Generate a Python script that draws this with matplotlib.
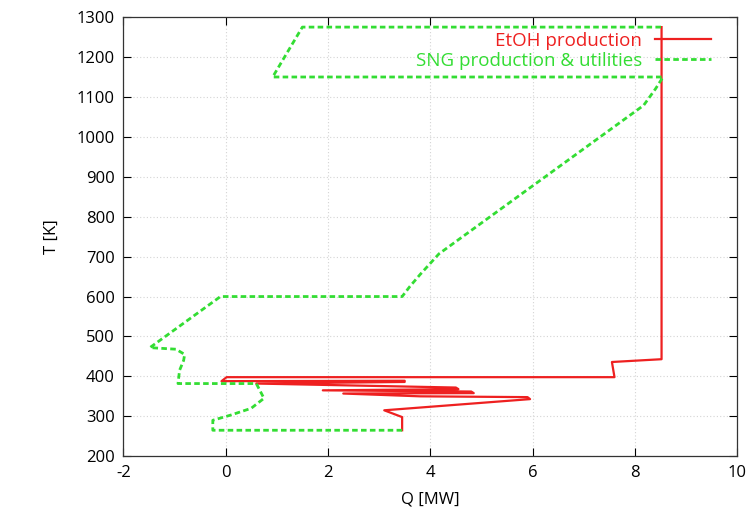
import matplotlib
matplotlib.use("Agg")
import matplotlib.pyplot as plt

# Heat load Q [MW] vs temperature T [K] for the two process streams
etoh_q = [3.45, 3.45, 3.10, 5.95, 5.90, 3.80, 2.30, 4.85, 4.80, 1.90, 4.55,
          4.50, 0.60, 3.50, 3.50, -0.08, 0.02, 7.60, 7.55, 8.52, 8.52]
etoh_t = [265, 298, 315, 343, 348, 350, 357, 358, 362, 365, 368,
          372, 382, 386, 389, 388, 398, 398, 436, 443, 1275]

sng_q = [3.45, -0.25, -0.25, 0.10, 0.50, 0.75, 0.60, -0.93, -0.90, -0.82,
         -0.80, -0.97, -1.48, -0.10, 3.45, 3.60, 3.80, 4.17, 8.17, 8.40,
         8.55, 0.92, 1.50, 8.55]
sng_t = [265, 265, 290, 303, 320, 345, 382, 382, 415, 440,
         455, 468, 472, 600, 600, 625, 655, 707, 1079, 1120,
         1150, 1150, 1275, 1275]

x_ticks = [-2, 0, 2, 4, 6, 8, 10]
y_ticks = [200, 300, 400, 500, 600, 700, 800, 900, 1000, 1100, 1200, 1300]

plt.rcParams["font.family"] = ["Open Sans", "DejaVu Sans"]
plt.rcParams["axes.unicode_minus"] = False

fig = plt.figure(figsize=(7.47, 5.19), dpi=100)
ax = fig.add_axes([0.165, 0.121, 0.822, 0.846])

ax.plot(etoh_q, etoh_t, color="#ee2020", lw=1.6, label="EtOH production")
ax.plot(sng_q, sng_t, color="#33dd33", lw=2.0, ls=(0, (2.0, 1.2)),
        label="SNG production & utilities")

ax.set_xlim(-2, 10)
ax.set_ylim(200, 1300)
ax.set_xticks(x_ticks)
ax.set_yticks(y_ticks)
ax.grid(True, color="#d4d4d4", ls=(0, (1, 2)), lw=0.8)
ax.tick_params(direction="in", top=True, right=True, length=6,
               labelsize=12, pad=6, width=0.8)
for s in ax.spines.values():
    s.set_linewidth(0.9)
    s.set_color("#333333")

ax.set_xlabel("Q [MW]", fontsize=12, labelpad=8)
ax.set_ylabel("T [K]", fontsize=12, labelpad=12)

leg = ax.legend(loc="upper right", bbox_to_anchor=(0.985, 1.005),
                frameon=False, markerfirst=False, labelcolor="linecolor",
                fontsize=13.5, handlelength=3.0, handletextpad=0.7,
                labelspacing=0.12)

fig.savefig("out.png", dpi=100)
